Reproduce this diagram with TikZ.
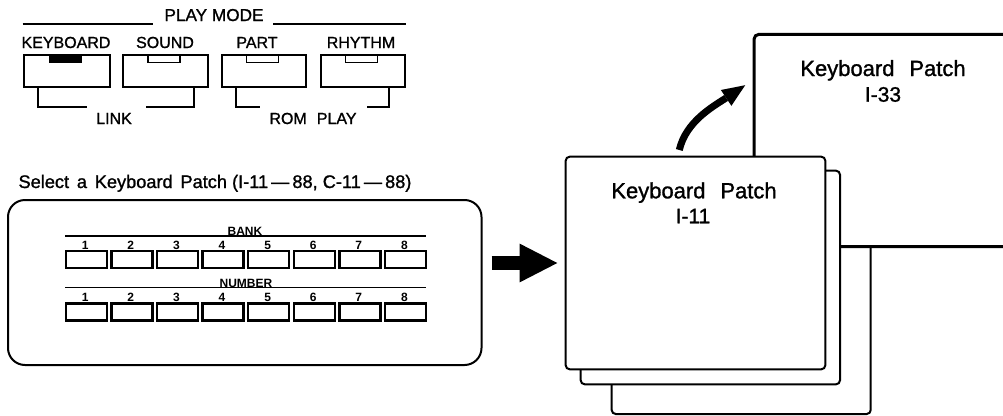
\documentclass[tikz,border=0pt]{standalone}
\usepackage{fontspec}
\setmainfont{Liberation Sans}
\newfontfamily\medfont{Liberation Sans}[FakeBold=1.2]
\usetikzlibrary{arrows.meta,calc}
\tikzset{
  pbtn/.style={draw, line width=2.4pt, minimum height=31.7pt, inner sep=0pt},
  ind/.style={draw, line width=1.6pt, minimum width=32pt, minimum height=8pt, inner sep=0pt, anchor=north},
  sbtn/.style={draw, line width=2.4pt, minimum width=41pt, minimum height=17pt, inner sep=0pt},
  card/.style={draw, fill=white, line width=2pt, rounded corners=4pt, inner sep=0pt},
  lbl/.style={inner sep=0pt, anchor=base},
  brk/.style={line width=1.8pt},
  rule/.style={line width=1.4pt},
  ftop/.style={font=\medfont\fontsize{16}{18}\selectfont},
  fsmall/.style={font=\bfseries\fontsize{12}{14}\selectfont},
  fcard/.style={font=\medfont\fontsize{22}{26}\selectfont},
}
\begin{document}
\begin{tikzpicture}[x=1pt,y=-1pt]
\useasboundingbox (0,0) rectangle (1003,415);
\clip (0,0) rectangle (1003,415);

% ---------- PLAY MODE panel ----------
\node[lbl, font=\medfont\fontsize{17.2}{19}\selectfont] (pm) at (214,21) {PLAY MODE};
\coordinate (pmA) at (22.7,24);
\coordinate (pmB) at (153,24);
\coordinate (pmC) at (273,24);
\coordinate (pmD) at (406,24);
\draw[brk] (pmA) -- (pmB);
\draw[brk] (pmC) -- (pmD);

\node[lbl, ftop] (lkb) at (66,48) {KEYBOARD};
\node[lbl, ftop] (lsnd) at (165,48) {SOUND};
\node[lbl, ftop] (lpart) at (257,48) {PART};
\node[lbl, ftop] (lrhy) at (361,48) {RHYTHM};

\node[pbtn, minimum width=86pt] (kb) at (67,70.85) {};
\node[pbtn, minimum width=85pt] (snd) at (165.5,70.85) {};
\node[pbtn, minimum width=84pt] (part) at (264,70.85) {};
\node[pbtn, minimum width=84pt] (rhy) at (363,70.85) {};

\node[ind, fill=black] (ikb) at ($(kb.north)+(-1.5,0)$) {};
\node[ind] (isnd) at ($(snd.north)+(-1.5,0)$) {};
\node[ind] (ipart) at ($(part.north)+(-1.5,0)$) {};
\node[ind] (irhy) at ($(rhy.north)+(-1.5,0)$) {};

\node[lbl, ftop] (link) at (114,124) {LINK};
\node[lbl, ftop] (rom) at (313,124) {ROM\hspace{0.35em} PLAY};
\coordinate (lnkL) at (87,107);
\coordinate (lnkR) at (146,107);
\coordinate (romL) at (260,107);
\coordinate (romR) at (367,107);
\draw[brk] ($(kb.south west)+(15.3,0)$) |- (lnkL);
\draw[brk] (lnkR) -| ($(snd.south east)+(-15,0)$);
\draw[brk] ($(part.south west)+(15,0)$) |- (romL);
\draw[brk] (romR) -| ($(rhy.south east)+(-17,0)$);

% ---------- Select a Keyboard Patch ----------
\node[lbl, font=\medfont\fontsize{18.2}{20}\selectfont] (sel_t) at (215,188)
  {Select\hspace{0.15em} a\hspace{0.15em} Keyboard\hspace{0.15em} Patch (I-11\,—\,88, C-11\,—\,88)};

\node[draw, line width=2pt, rounded corners=17pt, minimum width=473.5pt, minimum height=165pt, inner sep=0pt] (sel) at (244.75,282.5) {};

\coordinate (bankA) at (65,236);
\coordinate (bankB) at (426,236);
\draw[rule] (bankA) -- (bankB);
\node[lbl, fsmall] (bank) at (245,235) {BANK};
\coordinate (numA) at (65,287.3);
\coordinate (numB) at (426,287.3);
\draw[rule] (numA) -- (numB);
\node[lbl, fsmall] (number) at (246,287) {NUMBER};

\foreach \i in {1,...,8} {
  \pgfmathsetmacro{\xx}{86.2+45.6*(\i-1)}
  \node[sbtn] (b\i) at (\xx,259.7) {};
  \node[lbl, fsmall] (bn\i) at (\xx-1,249) {\i};
  \node[sbtn] (n\i) at (\xx,312) {};
  \node[lbl, fsmall] (nn\i) at (\xx-1,301) {\i};
}

% ---------- cards ----------
\node[card, minimum width=259pt, minimum height=213.6pt] (card3) at (741.2,307.2) {};
\node[card, line width=3pt, rounded corners=5pt, minimum width=286pt, minimum height=212.4pt] (top) at (897,140.5) {};
\node[card, minimum width=259.3pt, minimum height=213.6pt] (card2) at (710.35,277.5) {};
\node[card, minimum width=259.6pt, minimum height=212.6pt] (card1) at (695.5,263) {};

% arrows
\draw[line width=13.3pt, -{Triangle[length=37.6pt, width=38.7pt, line width=0pt]}]
  ($(sel.east |- card1.west)+(9,0)$) -- ($(card1.west)+(-7.4,0)$);
\draw[line width=7pt, -{Triangle[length=22.9pt, width=19pt, line width=0pt]}]
  ($(card1.north)+(-16.2,-5.7)$) .. controls ($(card1.north)+(-9.5,-34.7)$) and ($(card1.north)+(18.5,-49.7)$) .. ($(top.north west)+(-7.3,52.4)$);

% card texts
\node[lbl, fcard] (k1) at (694,198.3) {Keyboard\hspace{0.4em} Patch};
\node[lbl, font=\medfont\fontsize{21}{24}\selectfont] (k1n) at (693,223.3) {I-11};
\node[lbl, fcard] (k2) at (883,76) {Keyboard\hspace{0.4em} Patch};
\node[lbl, font=\medfont\fontsize{21}{24}\selectfont] (k2n) at (883,101.7) {I-33};
\end{tikzpicture}
\end{document}
